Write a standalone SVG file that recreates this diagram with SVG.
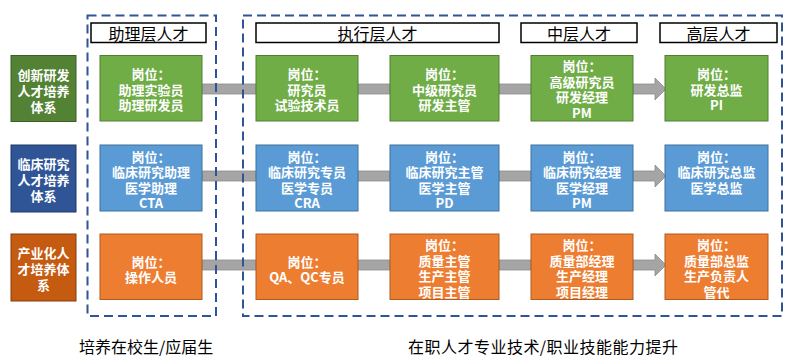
<svg xmlns="http://www.w3.org/2000/svg" width="800" height="357" viewBox="0 0 800 357">
<style>
text{font-family:"Noto Sans CJK SC","Noto Sans",sans-serif;text-anchor:middle;dominant-baseline:central}
.n{font-size:13px;font-weight:bold;fill:#fff}
.c{font-size:13px;font-weight:bold;fill:#fff}
.h{font-size:16px;fill:#000}
.b{font-size:16px;fill:#000;text-anchor:start}
.g{fill:#70AD47;stroke:#507E32;stroke-width:1}
.bl{fill:#5B9BD5;stroke:#41719C;stroke-width:1}
.o{fill:#ED7D31;stroke:#AE5A21;stroke-width:1}
.cg{fill:#548235;stroke:#3B5E25;stroke-width:1}
.cb{fill:#2F5597;stroke:#203864;stroke-width:1}
.co{fill:#C55A11;stroke:#843C0C;stroke-width:1}
.hb{fill:#fff;stroke:#000;stroke-width:1.5}
.bar{fill:#A5A5A5;stroke:#8C8C8C;stroke-width:0.8}
.dash{fill:none;stroke:#2F5597;stroke-width:2;stroke-dasharray:9 5}
</style>
<rect width="800" height="357" fill="#fff"/>

<g id="connectors">
<rect class="bar" x="202" y="84" width="54" height="10"/>
<rect class="bar" x="358" y="84" width="32" height="10"/>
<rect class="bar" x="499" y="84" width="32" height="10"/>
<polygon class="bar" points="633,84 655,84 655,78 666,89 655,100 655,94 633,94"/>
<rect class="bar" x="202" y="171" width="54" height="10"/>
<rect class="bar" x="358" y="171" width="32" height="10"/>
<rect class="bar" x="499" y="171" width="32" height="10"/>
<polygon class="bar" points="633,171 655,171 655,165 666,176 655,187 655,181 633,181"/>
<rect class="bar" x="202" y="260" width="54" height="10"/>
<rect class="bar" x="358" y="260" width="32" height="10"/>
<rect class="bar" x="499" y="260" width="32" height="10"/>
<polygon class="bar" points="633,260 655,260 655,254 666,265 655,276 655,270 633,270"/>
</g>

<g id="groups">
<rect class="dash" x="87.5" y="15.5" width="128.5" height="300.5"/>
<rect class="dash" x="243" y="15.5" width="539" height="300.5"/>
</g>

<g id="headers">
<g id="h1"><rect class="hb" x="91" y="23" width="115" height="19.5"/><text class="h" x="148.5" y="33">助理层人才</text></g>
<g id="h2"><rect class="hb" x="256" y="23" width="243" height="19.5"/><text class="h" x="377.5" y="33">执行层人才</text></g>
<g id="h3"><rect class="hb" x="521" y="23" width="116" height="19.5"/><text class="h" x="579" y="33">中层人才</text></g>
<g id="h4"><rect class="hb" x="660" y="23" width="117" height="19.5"/><text class="h" x="718.5" y="33">高层人才</text></g>
</g>

<g id="cat1"><rect class="cg" x="11" y="55.5" width="65" height="66"/><text class="c" x="43.5"><tspan x="43.5" y="73.5">创新研发</tspan><tspan x="43.5" y="89.5">人才培养</tspan><tspan x="43.5" y="105.5">体系</tspan></text></g>
<g id="cat2"><rect class="cb" x="11" y="145" width="65" height="67"/><text class="c" x="43.5"><tspan x="43.5" y="163">临床研究</tspan><tspan x="43.5" y="179">人才培养</tspan><tspan x="43.5" y="195">体系</tspan></text></g>
<g id="cat3"><rect class="co" x="11" y="234" width="65" height="67"/><text class="c" x="43.5"><tspan x="43.5" y="252">产业化人</tspan><tspan x="43.5" y="268">才培养体</tspan><tspan x="43.5" y="284">系</tspan></text></g>

<g id="r1c1"><rect class="g" x="100" y="55.5" width="102" height="65.5"/><text class="n"><tspan x="151" y="73">岗位：</tspan><tspan x="151" y="88.5">助理实验员</tspan><tspan x="151" y="104">助理研发员</tspan></text></g>
<g id="r1c2"><rect class="g" x="256" y="55.5" width="102" height="65.5"/><text class="n"><tspan x="307" y="73">岗位：</tspan><tspan x="307" y="88.5">研究员</tspan><tspan x="307" y="104">试验技术员</tspan></text></g>
<g id="r1c3"><rect class="g" x="390" y="55.5" width="109" height="65.5"/><text class="n"><tspan x="444.5" y="73">岗位：</tspan><tspan x="444.5" y="88.5">中级研究员</tspan><tspan x="444.5" y="104">研发主管</tspan></text></g>
<g id="r1c4"><rect class="g" x="531" y="55.5" width="102" height="65.5"/><text class="n"><tspan x="582" y="65.25">岗位：</tspan><tspan x="582" y="80.75">高级研究员</tspan><tspan x="582" y="96.25">研发经理</tspan><tspan x="582" y="111.75">PM</tspan></text></g>
<g id="r1c5"><rect class="g" x="665" y="55.5" width="103" height="65.5"/><text class="n"><tspan x="716.5" y="73">岗位：</tspan><tspan x="716.5" y="88.5">研发总监</tspan><tspan x="716.5" y="104">PI</tspan></text></g>

<g id="r2c1"><rect class="bl" x="100" y="145" width="102" height="66"/><text class="n"><tspan x="151" y="155.75">岗位：</tspan><tspan x="151" y="171.25">临床研究助理</tspan><tspan x="151" y="186.75">医学助理</tspan><tspan x="151" y="202.25">CTA</tspan></text></g>
<g id="r2c2"><rect class="bl" x="256" y="145" width="102" height="66"/><text class="n"><tspan x="307" y="155.75">岗位：</tspan><tspan x="307" y="171.25">临床研究专员</tspan><tspan x="307" y="186.75">医学专员</tspan><tspan x="307" y="202.25">CRA</tspan></text></g>
<g id="r2c3"><rect class="bl" x="390" y="145" width="109" height="66"/><text class="n"><tspan x="444.5" y="155.75">岗位：</tspan><tspan x="444.5" y="171.25">临床研究主管</tspan><tspan x="444.5" y="186.75">医学主管</tspan><tspan x="444.5" y="202.25">PD</tspan></text></g>
<g id="r2c4"><rect class="bl" x="531" y="145" width="102" height="66"/><text class="n"><tspan x="582" y="155.75">岗位：</tspan><tspan x="582" y="171.25">临床研究经理</tspan><tspan x="582" y="186.75">医学经理</tspan><tspan x="582" y="202.25">PM</tspan></text></g>
<g id="r2c5"><rect class="bl" x="665" y="145" width="103" height="66"/><text class="n"><tspan x="716.5" y="155.75">岗位：</tspan><tspan x="716.5" y="171.25">临床研究总监</tspan><tspan x="716.5" y="186.75">医学总监</tspan></text></g>

<g id="r3c1"><rect class="o" x="100" y="234" width="102" height="65.5"/><text class="n"><tspan x="151" y="260.5">岗位：</tspan><tspan x="151" y="276">操作人员</tspan></text></g>
<g id="r3c2"><rect class="o" x="256" y="234" width="102" height="65.5"/><text class="n"><tspan x="307" y="260.5">岗位：</tspan><tspan x="307" y="276">QA、QC专员</tspan></text></g>
<g id="r3c3"><rect class="o" x="390" y="234" width="109" height="65.5"/><text class="n"><tspan x="444.5" y="244">岗位：</tspan><tspan x="444.5" y="259.5">质量主管</tspan><tspan x="444.5" y="275">生产主管</tspan><tspan x="444.5" y="290.5">项目主管</tspan></text></g>
<g id="r3c4"><rect class="o" x="531" y="234" width="102" height="65.5"/><text class="n"><tspan x="582" y="244">岗位：</tspan><tspan x="582" y="259.5">质量部经理</tspan><tspan x="582" y="275">生产经理</tspan><tspan x="582" y="290.5">项目经理</tspan></text></g>
<g id="r3c5"><rect class="o" x="665" y="234" width="103" height="65.5"/><text class="n"><tspan x="716.5" y="244">岗位：</tspan><tspan x="716.5" y="259.5">质量部总监</tspan><tspan x="716.5" y="275">生产负责人</tspan><tspan x="716.5" y="290.5">管代</tspan></text></g>

<g id="footer">
<text class="b" x="79" y="346">培养在校生/应届生</text>
<text class="b" x="408" y="346" textLength="270">在职人才专业技术/职业技能能力提升</text>
</g>
</svg>
